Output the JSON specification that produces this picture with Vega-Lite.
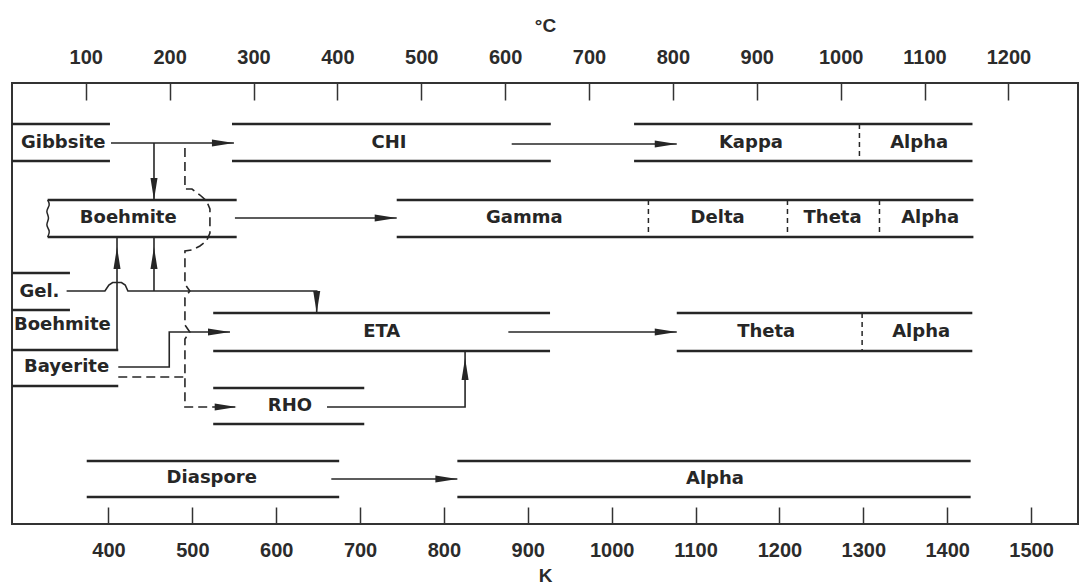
{
  "$schema": "https://vega.github.io/schema/vega-lite/v6.json",
  "width": 1066,
  "height": 441,
  "autosize": "none",
  "padding": {"left": 12, "top": 83, "right": 3, "bottom": 64},
  "background": "white",
  "config": {
    "view": {"stroke": "#333", "strokeWidth": 2},
    "axis": {
      "domain": false, "grid": false,
      "labelFont": "Liberation Sans", "labelFontWeight": "bold", "labelFontSize": 20, "labelColor": "#2b2b2b",
      "tickColor": "#333", "tickWidth": 1.5, "tickSize": -17, "labelPadding": 33,
      "titleFont": "Liberation Sans", "titleFontWeight": "bold", "titleFontSize": 19, "titleColor": "#2b2b2b",
      "titleBaseline": "middle"
    }
  },
  "datasets": {
    "bounds": [
      {"group": "Gibbsite", "from": 285, "to": 401.8, "level": 4.1},
      {"group": "Gibbsite", "from": 285, "to": 401.8, "level": 7.8},
      {"group": "CHI", "from": 547.3, "to": 927.4, "level": 4.1},
      {"group": "CHI", "from": 547.3, "to": 927.4, "level": 7.8},
      {"group": "Kappa-Alpha", "from": 1026.7, "to": 1430.2, "level": 4.1},
      {"group": "Kappa-Alpha", "from": 1026.7, "to": 1430.2, "level": 7.8},
      {"group": "Boehmite", "from": 327.5, "to": 552.9, "level": 11.7},
      {"group": "Boehmite", "from": 327.5, "to": 552.9, "level": 15.4},
      {"group": "Gamma-Alpha", "from": 743.7, "to": 1431.3, "level": 11.7},
      {"group": "Gamma-Alpha", "from": 743.7, "to": 1431.3, "level": 15.4},
      {"group": "Gel", "from": 285, "to": 354.1, "level": 19.0},
      {"group": "Gel", "from": 285, "to": 354.1, "level": 22.7},
      {"group": "Boehmite gel", "from": 285, "to": 411.7, "level": 26.7},
      {"group": "Bayerite", "from": 285, "to": 411.7, "level": 30.3},
      {"group": "ETA", "from": 524.9, "to": 926.5, "level": 23.0},
      {"group": "ETA", "from": 524.9, "to": 926.5, "level": 26.8},
      {"group": "Theta-Alpha", "from": 1077.6, "to": 1430.0, "level": 23.0},
      {"group": "Theta-Alpha", "from": 1077.6, "to": 1430.0, "level": 26.8},
      {"group": "RHO", "from": 524.9, "to": 705.0, "level": 30.5},
      {"group": "RHO", "from": 524.9, "to": 705.0, "level": 34.1},
      {"group": "Diaspore", "from": 374.1, "to": 675.1, "level": 37.8},
      {"group": "Diaspore", "from": 374.1, "to": 675.1, "level": 41.4},
      {"group": "Alpha", "from": 816.0, "to": 1428.0, "level": 37.8},
      {"group": "Alpha", "from": 816.0, "to": 1428.0, "level": 41.4}
    ],
    "dividers": [
      {"at": 1295.4, "top": 4.1, "bottom": 7.8},
      {"at": 1043.8, "top": 11.7, "bottom": 15.4},
      {"at": 1209.6, "top": 11.7, "bottom": 15.4},
      {"at": 1319.3, "top": 11.7, "bottom": 15.4},
      {"at": 1298.6, "top": 23.0, "bottom": 26.8}
    ],
    "paths": [
      {"path": "T1", "seq": 1, "t": 403.0, "level": 6.0},
      {"path": "T1", "seq": 2, "t": 549.6, "level": 6.0},
      {"path": "T2", "seq": 1, "t": 880.8, "level": 6.1},
      {"path": "T2", "seq": 2, "t": 1077.6, "level": 6.1},
      {"path": "T3", "seq": 1, "t": 454.3, "level": 6.0},
      {"path": "T3", "seq": 2, "t": 454.3, "level": 11.7},
      {"path": "T4", "seq": 1, "t": 550.8, "level": 13.5},
      {"path": "T4", "seq": 2, "t": 743.7, "level": 13.5},
      {"path": "T5", "seq": 1, "t": 350.1, "level": 20.8},
      {"path": "T5", "seq": 2, "t": 395.8, "level": 20.8},
      {"path": "T5", "seq": 3, "t": 400.5, "level": 20.2},
      {"path": "T5", "seq": 4, "t": 405.0, "level": 19.95},
      {"path": "T5", "seq": 5, "t": 415.5, "level": 19.95},
      {"path": "T5", "seq": 6, "t": 420.0, "level": 20.2},
      {"path": "T5", "seq": 7, "t": 423.2, "level": 20.8},
      {"path": "T5", "seq": 8, "t": 648.3, "level": 20.8},
      {"path": "T5", "seq": 9, "t": 648.3, "level": 23.0},
      {"path": "T6", "seq": 1, "t": 454.3, "level": 20.8},
      {"path": "T6", "seq": 2, "t": 454.3, "level": 15.4},
      {"path": "T7", "seq": 1, "t": 410.2, "level": 26.7},
      {"path": "T7", "seq": 2, "t": 410.2, "level": 15.4},
      {"path": "T8", "seq": 1, "t": 411.7, "level": 28.4},
      {"path": "T8", "seq": 2, "t": 472.5, "level": 28.4},
      {"path": "T8", "seq": 3, "t": 472.5, "level": 24.9},
      {"path": "T8", "seq": 4, "t": 544.9, "level": 24.9},
      {"path": "T9", "seq": 1, "t": 876.8, "level": 24.9},
      {"path": "T9", "seq": 2, "t": 1077.6, "level": 24.9},
      {"path": "T10", "seq": 1, "t": 660.6, "level": 32.4},
      {"path": "T10", "seq": 2, "t": 825.2, "level": 32.4},
      {"path": "T10", "seq": 3, "t": 825.2, "level": 26.8},
      {"path": "T11", "seq": 1, "t": 665.7, "level": 39.6},
      {"path": "T11", "seq": 2, "t": 816.0, "level": 39.6}
    ],
    "dashed": [
      {"path": "D1", "seq": 1, "t": 491.2, "level": 6.5},
      {"path": "D1", "seq": 2, "t": 491.2, "level": 10.6},
      {"path": "D1", "seq": 3, "t": 499.6, "level": 10.6},
      {"path": "D1", "seq": 4, "t": 509.1, "level": 11.2},
      {"path": "D1", "seq": 5, "t": 517.0, "level": 11.8},
      {"path": "D1", "seq": 6, "t": 521.0, "level": 12.6},
      {"path": "D1", "seq": 7, "t": 521.0, "level": 15.0},
      {"path": "D1", "seq": 8, "t": 517.0, "level": 15.8},
      {"path": "D1", "seq": 9, "t": 509.1, "level": 16.3},
      {"path": "D1", "seq": 10, "t": 499.6, "level": 16.7},
      {"path": "D1", "seq": 11, "t": 491.2, "level": 16.8},
      {"path": "D1", "seq": 12, "t": 491.2, "level": 20.1},
      {"path": "D1", "seq": 13, "t": 497.0, "level": 20.8},
      {"path": "D1", "seq": 14, "t": 491.2, "level": 21.5},
      {"path": "D1", "seq": 15, "t": 491.2, "level": 24.2},
      {"path": "D1", "seq": 16, "t": 497.0, "level": 24.9},
      {"path": "D1", "seq": 17, "t": 491.2, "level": 25.6},
      {"path": "D1", "seq": 18, "t": 491.2, "level": 32.4},
      {"path": "D1", "seq": 19, "t": 552.9, "level": 32.4},
      {"path": "D2", "seq": 1, "t": 411.7, "level": 29.4},
      {"path": "D2", "seq": 2, "t": 491.2, "level": 29.4}
    ],
    "wiggle": [
      {"seq": 1, "t": 327.5, "level": 11.7},
      {"seq": 2, "t": 331.0, "level": 12.2},
      {"seq": 3, "t": 324.5, "level": 12.8},
      {"seq": 4, "t": 330.5, "level": 13.5},
      {"seq": 5, "t": 324.5, "level": 14.2},
      {"seq": 6, "t": 331.0, "level": 14.8},
      {"seq": 7, "t": 327.5, "level": 15.4}
    ],
    "heads": [
      {"t": 549.6, "level": 6.0, "dir": "right"},
      {"t": 1077.6, "level": 6.1, "dir": "right"},
      {"t": 454.3, "level": 11.7, "dir": "down"},
      {"t": 743.7, "level": 13.5, "dir": "right"},
      {"t": 648.3, "level": 23.0, "dir": "down"},
      {"t": 454.3, "level": 16.4, "dir": "up"},
      {"t": 410.2, "level": 16.4, "dir": "up"},
      {"t": 544.9, "level": 24.9, "dir": "right"},
      {"t": 1077.6, "level": 24.9, "dir": "right"},
      {"t": 825.2, "level": 27.5, "dir": "up"},
      {"t": 816.0, "level": 39.6, "dir": "right"},
      {"t": 552.9, "level": 32.4, "dir": "right"}
    ],
    "labels": [
      {"text": "Gibbsite", "t": 346.1, "level": 6.0},
      {"text": "CHI", "t": 734.5, "level": 6.0},
      {"text": "Kappa", "t": 1166.0, "level": 6.0},
      {"text": "Alpha", "t": 1366.6, "level": 6.0},
      {"text": "Boehmite", "t": 423.6, "level": 13.5},
      {"text": "Gamma", "t": 895.8, "level": 13.5},
      {"text": "Delta", "t": 1126.3, "level": 13.5},
      {"text": "Theta", "t": 1263.4, "level": 13.5},
      {"text": "Alpha", "t": 1379.7, "level": 13.5},
      {"text": "Gel.", "t": 317.7, "level": 20.9},
      {"text": "Boehmite", "t": 345.1, "level": 24.2},
      {"text": "Bayerite", "t": 350.1, "level": 28.4},
      {"text": "ETA", "t": 725.8, "level": 24.9},
      {"text": "Theta", "t": 1184.2, "level": 24.9},
      {"text": "Alpha", "t": 1369.0, "level": 24.9},
      {"text": "RHO", "t": 616.4, "level": 32.3},
      {"text": "Diaspore", "t": 523.2, "level": 39.5},
      {"text": "Alpha", "t": 1123.1, "level": 39.6}
    ]
  },
  "resolve": {"axis": {"x": "independent"}},
  "layer": [
    {
      "data": {"name": "bounds"},
      "mark": {"type": "rule", "color": "#262626", "strokeWidth": 2.5},
      "encoding": {
        "x": {"field": "from", "type": "quantitative",
              "scale": {"domain": [285, 1556], "nice": false, "zero": false},
              "axis": {"orient": "bottom", "format": "d", "values": [400, 500, 600, 700, 800, 900, 1000, 1100, 1200, 1300, 1400, 1500], "title": "K", "titleY": 51}},
        "x2": {"field": "to"},
        "y": {"field": "level", "type": "quantitative",
              "scale": {"domain": [0, 44.1], "reverse": true, "nice": false, "zero": false}, "axis": null}
      }
    },
    {
      "data": {"name": "dividers"},
      "mark": {"type": "rule", "color": "#262626", "strokeWidth": 1.5, "strokeDash": [5, 4]},
      "encoding": {
        "x": {"field": "at", "type": "quantitative", "axis": null},
        "y": {"field": "top", "type": "quantitative", "axis": null},
        "y2": {"field": "bottom"}
      }
    },
    {
      "data": {"name": "paths"},
      "mark": {"type": "line", "color": "#262626", "strokeWidth": 1.6},
      "encoding": {
        "x": {"field": "t", "type": "quantitative", "axis": null},
        "y": {"field": "level", "type": "quantitative", "axis": null},
        "detail": {"field": "path"},
        "order": {"field": "seq"}
      }
    },
    {
      "data": {"name": "dashed"},
      "mark": {"type": "line", "color": "#262626", "strokeWidth": 1.6, "strokeDash": [9, 5]},
      "encoding": {
        "x": {"field": "t", "type": "quantitative", "axis": null},
        "y": {"field": "level", "type": "quantitative", "axis": null},
        "detail": {"field": "path"},
        "order": {"field": "seq"}
      }
    },
    {
      "data": {"name": "wiggle"},
      "mark": {"type": "line", "color": "#262626", "strokeWidth": 1.5, "interpolate": "basis"},
      "encoding": {
        "x": {"field": "t", "type": "quantitative", "axis": null},
        "y": {"field": "level", "type": "quantitative", "axis": null},
        "order": {"field": "seq"}
      }
    },
    {
      "data": {"name": "heads"},
      "transform": [{"filter": "datum.dir === 'right'"}],
      "mark": {"type": "point", "shape": "M-2,-0.32L0,0L-2,0.32Z", "size": 484, "filled": true, "opacity": 1, "color": "#262626", "angle": 0},
      "encoding": {
        "x": {"field": "t", "type": "quantitative", "axis": null},
        "y": {"field": "level", "type": "quantitative", "axis": null}
      }
    },
    {
      "data": {"name": "heads"},
      "transform": [{"filter": "datum.dir === 'down'"}],
      "mark": {"type": "point", "shape": "M-2,-0.32L0,0L-2,0.32Z", "size": 484, "filled": true, "opacity": 1, "color": "#262626", "angle": 90},
      "encoding": {
        "x": {"field": "t", "type": "quantitative", "axis": null},
        "y": {"field": "level", "type": "quantitative", "axis": null}
      }
    },
    {
      "data": {"name": "heads"},
      "transform": [{"filter": "datum.dir === 'up'"}],
      "mark": {"type": "point", "shape": "M-2,-0.32L0,0L-2,0.32Z", "size": 484, "filled": true, "opacity": 1, "color": "#262626", "angle": 270},
      "encoding": {
        "x": {"field": "t", "type": "quantitative", "axis": null},
        "y": {"field": "level", "type": "quantitative", "axis": null}
      }
    },
    {
      "data": {"name": "labels"},
      "mark": {"type": "text", "font": "DejaVu Sans", "fontWeight": "bold", "fontSize": 18, "color": "#262626", "align": "center", "baseline": "middle"},
      "encoding": {
        "x": {"field": "t", "type": "quantitative",
              "axis": {"orient": "top", "values": [373, 473, 573, 673, 773, 873, 973, 1073, 1173, 1273, 1373, 1473], "labelExpr": "datum.value - 273", "title": "°C", "titleY": -58}},
        "y": {"field": "level", "type": "quantitative", "axis": null},
        "text": {"field": "text"}
      }
    }
  ]
}
